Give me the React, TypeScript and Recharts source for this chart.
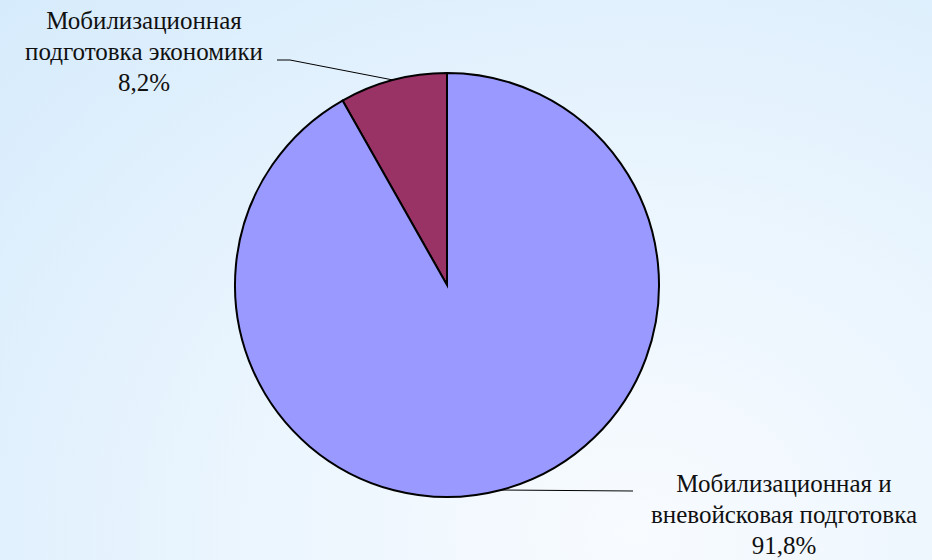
import { PieChart, Pie, Cell } from "recharts";

const categories = [
  ["Мобилизационная", "подготовка экономики"],
  ["Мобилизационная и", "вневойсковая подготовка"],
];
const shares = [8.2, 91.8];
const shareLabels = ["8,2%", "91,8%"];
const sliceColors = ["#993366", "#9999ff"];

const data = categories.map((lines, i) => ({
  name: lines.join(" "),
  value: shares[i],
  label: shareLabels[i],
}));

const RAD = Math.PI / 180;
const SERIF = "'Liberation Serif', 'Times New Roman', serif";

const renderLabel = (props: any) => {
  const { cx, cy, midAngle, outerRadius, index } = props;
  const ex = cx + outerRadius * Math.cos(-midAngle * RAD);
  const ey = cy + outerRadius * Math.sin(-midAngle * RAD);
  const lines = [...categories[index], shareLabels[index]];
  const left = index === 0;
  // label block sits up-left for the small slice, down-right for the big one
  const tx = left ? cx - 303 : cx + 337;
  const ty = left ? cy - 256 : cy + 207;
  const pts = left
    ? `${ex},${ey} ${cx - 157},${cy - 225} ${cx - 170},${cy - 225}`
    : `${ex},${ey} ${cx + 186},${ey + 1}`;
  return (
    <g key={`lbl-${index}`}>
      <polyline points={pts} fill="none" stroke="#000" strokeWidth={1} />
      {lines.map((t, i) => (
        <text
          key={i}
          x={tx}
          y={ty + i * 31}
          textAnchor="middle"
          style={{ fontFamily: SERIF, fontSize: 25 }}
          fill="#111"
          stroke="none"
        >
          {t}
        </text>
      ))}
    </g>
  );
};

export default function App() {
  return (
    <div
      style={{
        position: "absolute",
        left: 0,
        top: 0,
        width: 932,
        height: 560,
        background: "radial-gradient(ellipse at 68% 95%, #f8fbff 0%, #ecf6fe 40%, #d6ebfc 100%)",
      }}
    >
      <PieChart width={932} height={560} margin={{ top: 0, right: 0, bottom: 0, left: 0 }}>
        <Pie
          data={data}
          dataKey="value"
          cx={447}
          cy={285}
          outerRadius={212}
          startAngle={90}
          endAngle={450}
          stroke="#000"
          strokeWidth={2}
          label={renderLabel}
          labelLine={false}
          isAnimationActive={false}
        >
          {data.map((d, i) => (
            <Cell key={d.name} fill={sliceColors[i]} />
          ))}
        </Pie>
      </PieChart>
    </div>
  );
}
